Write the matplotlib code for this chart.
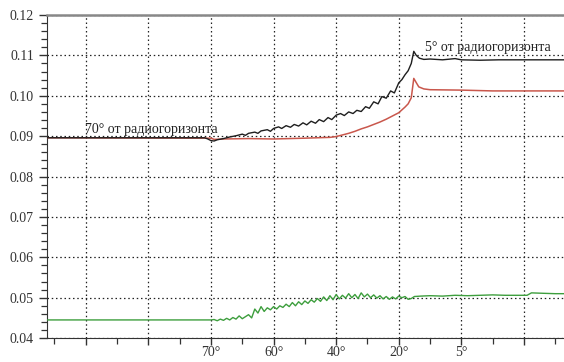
import matplotlib
matplotlib.use("Agg")
import matplotlib.pyplot as plt
from matplotlib.ticker import MultipleLocator, FixedLocator, FixedFormatter

plt.rcParams['font.family'] = ['Liberation Serif', 'DejaVu Serif']

# x positions in grid units (gridlines at 1..8)
x_black = [0.38, 2.9, 2.95, 3.0, 3.05, 3.1, 3.2, 3.3, 3.4, 3.5, 3.55, 3.6, 3.7, 3.75, 3.8,
           3.9, 3.95, 4.0, 4.08, 4.13, 4.2, 4.27, 4.33, 4.4, 4.47, 4.53, 4.6, 4.67, 4.73,
           4.8, 4.87, 4.93, 5.0, 5.07, 5.13, 5.2, 5.27, 5.33, 5.4, 5.47, 5.53, 5.6, 5.67,
           5.73, 5.8, 5.87, 5.93, 6.0, 6.05, 6.1, 6.15, 6.2, 6.24, 6.28, 6.33, 6.4, 6.5,
           6.7, 6.9, 7.0, 7.3, 7.6, 8.0, 8.64]
y_black = [0.0896, 0.0896, 0.0893, 0.0889, 0.0888, 0.0891, 0.0894, 0.0898, 0.0901, 0.0905,
           0.0902, 0.0907, 0.0910, 0.0907, 0.0913, 0.0916, 0.0912, 0.0919, 0.0923, 0.0919,
           0.0926, 0.0922, 0.0929, 0.0925, 0.0933, 0.0928, 0.0937, 0.0932, 0.0941, 0.0936,
           0.0946, 0.0941, 0.0952, 0.0956, 0.0951, 0.0960, 0.0956, 0.0964, 0.0961, 0.0973,
           0.0969, 0.0985, 0.0980, 0.0998, 0.0994, 0.1012, 0.1007, 0.1032, 0.1040, 0.1052,
           0.1062, 0.1080, 0.1110, 0.1100, 0.1093, 0.1090, 0.1091, 0.1089, 0.1092, 0.1089,
           0.1088, 0.1089, 0.1089, 0.1089]

x_red = [0.38, 3.0, 3.05, 3.2, 3.6, 4.0, 4.5, 4.9, 5.0, 5.1, 5.2, 5.3, 5.4, 5.5, 5.6, 5.7,
         5.8, 5.9, 6.0, 6.1, 6.15, 6.2, 6.24, 6.27, 6.32, 6.4, 6.5, 7.0, 7.5, 8.0, 8.64]
y_red = [0.0896, 0.0895, 0.0892, 0.0893, 0.0894, 0.0893, 0.0895, 0.0897, 0.0899, 0.0903,
         0.0907, 0.0912, 0.0918, 0.0923, 0.0929, 0.0935, 0.0942, 0.0950, 0.0958, 0.0972,
         0.0980, 0.0995, 0.1043, 0.1035, 0.1022, 0.1017, 0.1015, 0.1014, 0.1012, 0.1012,
         0.1012]

x_green = [0.38, 3.0, 3.05, 3.1, 3.15, 3.2, 3.25, 3.3, 3.35, 3.4, 3.45, 3.5, 3.55, 3.6, 3.65,
           3.7, 3.75, 3.8, 3.85, 3.9, 3.95, 4.0, 4.05, 4.1, 4.15, 4.2, 4.25, 4.3, 4.35, 4.4,
           4.45, 4.5, 4.55, 4.6, 4.65, 4.7, 4.75, 4.8, 4.85, 4.9, 4.95, 5.0, 5.05, 5.1, 5.15,
           5.2, 5.25, 5.3, 5.35, 5.4, 5.45, 5.5, 5.55, 5.6, 5.65, 5.7, 5.75, 5.8, 5.85, 5.9,
           5.95, 6.0, 6.05, 6.1, 6.15, 6.2, 6.25, 6.35, 6.5, 6.7, 6.9, 7.1, 7.3, 7.5, 7.7,
           7.9, 8.05, 8.12, 8.3, 8.5, 8.64]
y_green = [0.0445, 0.0445, 0.0446, 0.0443, 0.0447, 0.0444, 0.0449, 0.0445, 0.0451, 0.0447,
           0.0455, 0.0448, 0.0453, 0.0458, 0.0450, 0.0472, 0.0462, 0.0478, 0.0466, 0.0475,
           0.0470, 0.0478, 0.0472, 0.0480, 0.0476, 0.0484, 0.0478, 0.0488, 0.0480, 0.0490,
           0.0483, 0.0492, 0.0486, 0.0495, 0.0489, 0.0498, 0.0491, 0.0502, 0.0493, 0.0505,
           0.0495, 0.0508, 0.0497, 0.0506, 0.0499, 0.0510, 0.0500, 0.0508, 0.0498, 0.0512,
           0.0502, 0.0509, 0.0500, 0.0507, 0.0499, 0.0505, 0.0497, 0.0503, 0.0496, 0.0502,
           0.0497, 0.0504, 0.0500, 0.0503, 0.0496, 0.0498, 0.0503, 0.0504, 0.0505, 0.0504,
           0.0506, 0.0505, 0.0506, 0.0507, 0.0506, 0.0506, 0.0506, 0.0512, 0.0511, 0.0510,
           0.0510]

x_tick_pos = [1, 2, 3, 4, 5, 6, 7, 8]
x_tick_labels = ['', '', '70°', '60°', '40°', '20°', '5°', '']

label_low = '70° от радиогоризонта'
label_high = '5° от радиогоризонта'

fig = plt.figure(figsize=(5.64, 3.62), dpi=100)
ax = fig.add_axes([0.0833, 0.066, 0.9167, 0.8926])

ax.plot(x_red, y_red, color='#c9574c', lw=1.1, zorder=3)
ax.plot(x_black, y_black, color='#1e1e1e', lw=1.0, zorder=4)
ax.plot(x_green, y_green, color='#3d9e3d', lw=1.0, zorder=3)

ax.set_xlim(0.38, 8.64)
ax.set_ylim(0.04, 0.12)

ax.xaxis.set_major_locator(FixedLocator(x_tick_pos))
ax.xaxis.set_major_formatter(FixedFormatter(x_tick_labels))
ax.xaxis.set_minor_locator(MultipleLocator(0.5))
ax.yaxis.set_major_locator(MultipleLocator(0.01))
ax.yaxis.set_minor_locator(MultipleLocator(0.002))
ax.yaxis.set_major_formatter(plt.FuncFormatter(lambda v, p: f'{v:.2f}'))

ax.grid(True, which='major', color='#222222', linestyle=(0, (1.2, 2.2)), linewidth=0.9)

ax.tick_params(axis='both', which='both', direction='out', colors='#333333',
               labelsize=10, labelcolor='#333333')
ax.tick_params(axis='y', which='major', length=6, width=1)
ax.tick_params(axis='y', which='minor', length=4, width=0.9)
ax.tick_params(axis='x', which='major', length=5, width=1, pad=1)
ax.tick_params(axis='x', which='minor', length=4, width=0.9)

ax.spines['right'].set_visible(False)
ax.spines['top'].set_color('#888888')
ax.spines['top'].set_linewidth(1.8)
ax.spines['left'].set_color('#333333')
ax.spines['bottom'].set_color('#333333')

ax.text(0.98, 0.0909, label_low, fontsize=10, va='baseline', ha='left', color='#222222', zorder=5)
ax.text(6.42, 0.1111, label_high, fontsize=10, va='baseline', ha='left', color='#222222', zorder=5)

fig.savefig('out.png', dpi=100)
